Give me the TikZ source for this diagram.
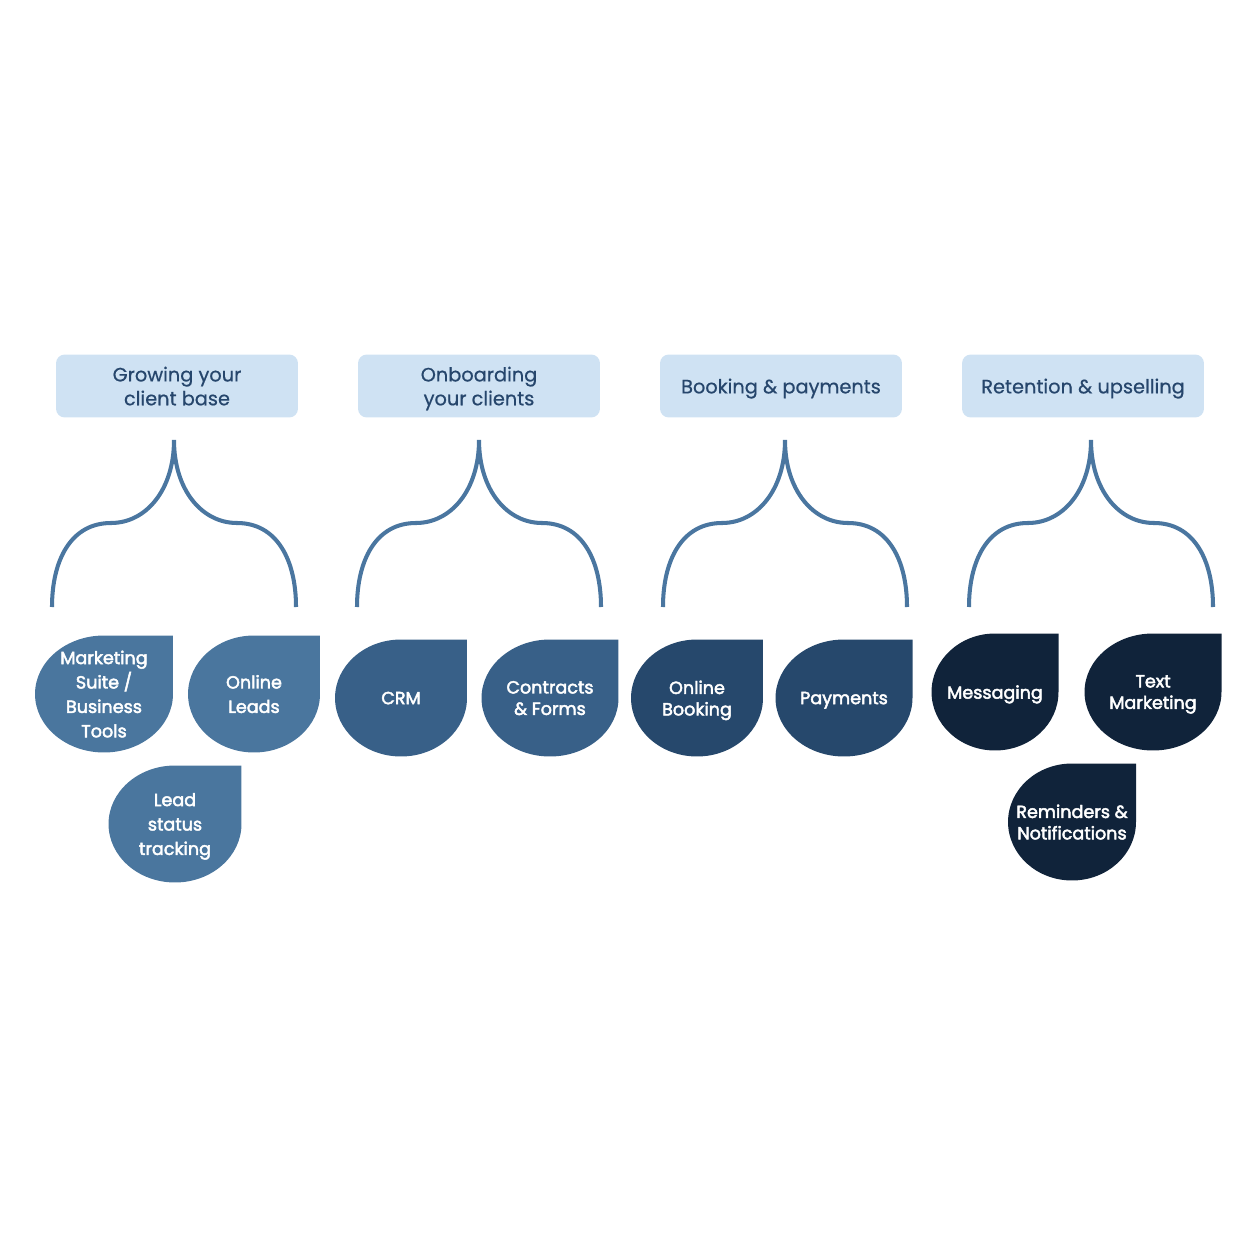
\documentclass[tikz,border=0pt]{standalone}
\usepackage{fontspec}
\setmainfont{Poppins}
\newfontfamily\headfont[FakeBold=0.6]{Poppins}
\newfontfamily\dropfont[FakeBold=2.6]{Poppins}
\usetikzlibrary{calc,positioning}
\definecolor{paleblue}{RGB}{207,226,243}
\definecolor{headink}{RGB}{38,70,108}
\definecolor{forkline}{RGB}{74,118,160}
\definecolor{growblue}{RGB}{74,118,158}
\definecolor{onboardblue}{RGB}{56,96,136}
\definecolor{bookblue}{RGB}{38,72,108}
\definecolor{retainblue}{RGB}{16,35,58}
\tikzset{
  head/.style={fill=paleblue,rounded corners=5pt,minimum width=4.84cm,minimum height=1.26cm,
    text=headink,align=center,text depth=0pt,font=\headfont\fontsize{11}{13.6}\selectfont},
  % teardrop: three quarter ellipse, sharp top right corner
  drop/.style={minimum width=2.7cm,minimum height=2.34cm,inner sep=0pt,
    text=white,align=center,text depth=0pt,font=\dropfont\fontsize{10}{12.2}\selectfont,
    path picture={
      \path (path picture bounding box.south west) coordinate (sw)
            (path picture bounding box.north east) coordinate (ne)
            (path picture bounding box.center) coordinate (c);
      \fill[#1] (ne) -- (ne|-c)
        .. controls ($(ne|-c)!0.552!(ne|-sw)$) and ($(c|-sw)!0.552!(ne|-sw)$) .. (c|-sw)
        .. controls ($(c|-sw)!0.552!(sw)$) and ($(sw|-c)!0.552!(sw)$) .. (sw|-c)
        .. controls ($(sw|-c)!0.552!(sw|-ne)$) and ($(c|-ne)!0.552!(sw|-ne)$) .. (c|-ne)
        -- cycle;
    }},
  drop/.default=growblue,
  loose/.style={font=\dropfont\fontsize{10}{13.9}\selectfont},
  pics/fork/.style={code={
    \draw[forkline,line width=2.3pt] (-122,167) .. controls (-122,120) and (-103,83) .. (-63,83)
      .. controls (-28,83) and (0,50) .. (0,0)
      .. controls (0,50) and (28,83) .. (63,83)
      .. controls (103,83) and (122,120) .. (122,167);
  }},
}
\begin{document}
\begin{tikzpicture}[x=0.02cm,y=-0.02cm]
  \useasboundingbox (0,0) rectangle (1260,1260);

  % stages
  \node[head] (hGrow) at (177,386) {Growing your\\client base};
  \node[head] (hOnboard) at (479,386) {Onboarding\\your clients};
  \node[head] (hBook) at (781,386) {Booking \& payments};
  \node[head] (hRetain) at (1083,386) {Retention \& upselling};

  \pic at (174,440) {fork};
  \pic at (479,440) {fork};
  \pic at (785,440) {fork};
  \pic at (1091,440) {fork};

  % growing
  \node[drop=growblue,loose,minimum width=2.76cm] (dSuite) at (104,694) {Marketing\\Suite /\\Business\\Tools};
  \node[drop=growblue,loose,minimum width=2.64cm] (dLeads) at (254,694) {Online\\Leads};
  \node[drop=growblue,loose,minimum width=2.66cm] (dStatus) at (175,824) {Lead\\status\\tracking};

  % onboarding
  \node[drop=onboardblue,minimum width=2.64cm] (dCrm) at (401,698) {CRM};
  \node[drop=onboardblue,minimum width=2.74cm] (dForms) at (550,698) {Contracts\\\& Forms};

  % booking
  \node[drop=bookblue,minimum width=2.64cm] (dBooking) at (697,698) {Online\\Booking};
  \node[drop=bookblue,minimum width=2.74cm] (dPay) at (844,698) {Payments};

  % retention
  \node[drop=retainblue,minimum width=2.54cm] (dMsg) at (995,692) {Messaging};
  \node[drop=retainblue,minimum width=2.74cm] (dText) at (1153,692) {Text\\Marketing};
  \node[drop=retainblue,minimum width=2.56cm] (dRemind) at (1072,822) {Reminders \&\\Notifications};
\end{tikzpicture}
\end{document}
